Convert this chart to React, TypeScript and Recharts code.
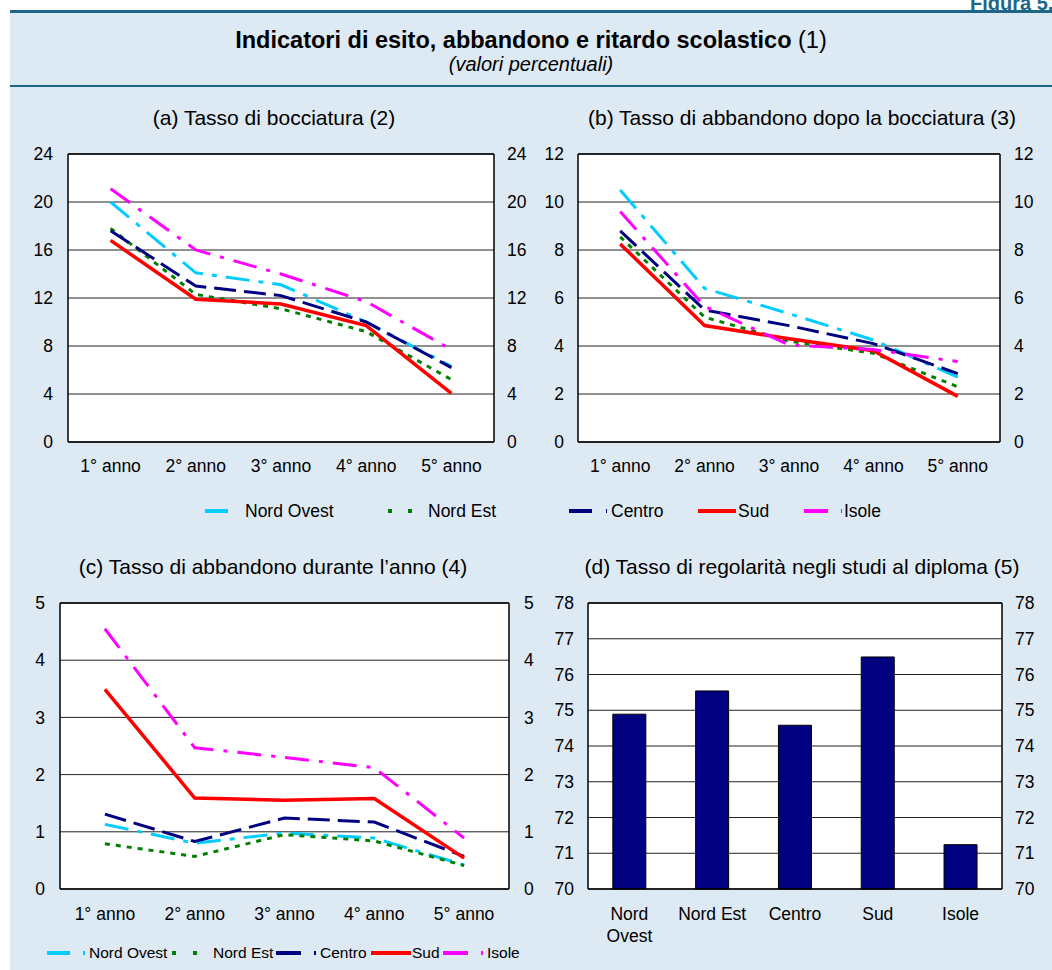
import React from "react";
import {
  LineChart,
  Line,
  ComposedChart,
  Bar,
  XAxis,
  YAxis,
  CartesianGrid,
  ReferenceLine,
} from "recharts";

const years = ["1° anno", "2° anno", "3° anno", "4° anno", "5° anno"];
const regions = ["Nord Ovest", "Nord Est", "Centro", "Sud", "Isole"];

// (a) Tasso di bocciatura
const bocNordOvest = [20.0, 14.1, 13.1, 10.0, 6.3];
const bocNordEst = [17.8, 12.3, 11.1, 9.2, 5.2];
const bocCentro = [17.6, 13.0, 12.2, 10.0, 6.2];
const bocSud = [16.8, 11.9, 11.5, 9.7, 4.05];
const bocIsole = [21.1, 16.0, 14.0, 11.7, 7.7];

// (b) Tasso di abbandono dopo la bocciatura
const dopoNordOvest = [10.5, 6.4, 5.35, 4.25, 2.7];
const dopoNordEst = [8.55, 5.2, 4.2, 3.7, 2.3];
const dopoCentro = [8.8, 5.5, 4.85, 4.1, 2.85];
const dopoSud = [8.25, 4.85, 4.3, 3.8, 1.9];
const dopoIsole = [9.6, 5.65, 4.05, 3.85, 3.35];

// (c) Tasso di abbandono durante l'anno
const durNordOvest = [1.13, 0.8, 0.98, 0.89, 0.42];
const durNordEst = [0.79, 0.57, 0.95, 0.84, 0.41];
const durCentro = [1.31, 0.83, 1.24, 1.17, 0.57];
const durSud = [3.49, 1.59, 1.55, 1.58, 0.54];
const durIsole = [4.55, 2.47, 2.3, 2.12, 0.89];

// (d) Tasso di regolarità negli studi al diploma
const regolarita = [74.89, 75.54, 74.58, 76.49, 71.24];

const ticksA = [0, 4, 8, 12, 16, 20, 24];
const ticksB = [0, 2, 4, 6, 8, 10, 12];
const ticksC = [0, 1, 2, 3, 4, 5];
const ticksD = [70, 71, 72, 73, 74, 75, 76, 77, 78];

const FONT = '"Liberation Sans", Arial, Helvetica, sans-serif';
const BG = "#dde9f3";
const RULE = "#1d6688";

const seriesStyle: Record<string, { color: string; dash?: string; width: number }> = {
  "Nord Ovest": { color: "#00ccff", dash: "24 9 5 9", width: 3 },
  "Nord Est": { color: "#008000", dash: "5 6", width: 3 },
  Centro: { color: "#000080", dash: "22 8", width: 3 },
  Sud: { color: "#ff0000", width: 3.5 },
  Isole: { color: "#ff00ff", dash: "24 10 4 10", width: 3 },
};

function buildRows(cols: number[][]) {
  return years.map((y, i) => {
    const row: Record<string, string | number> = { year: y };
    regions.forEach((r, k) => (row[r] = cols[k][i]));
    return row;
  });
}

const rowsA = buildRows([bocNordOvest, bocNordEst, bocCentro, bocSud, bocIsole]);
const rowsB = buildRows([dopoNordOvest, dopoNordEst, dopoCentro, dopoSud, dopoIsole]);
const rowsC = buildRows([durNordOvest, durNordEst, durCentro, durSud, durIsole]);
const rowsD = regions.map((r, i) => ({ region: r, value: regolarita[i] }));

const tickStyle = { fill: "#000", fontSize: 17.5 };
const GRID = "#222";

interface LinePanelProps {
  rows: Record<string, string | number>[];
  ticks: number[];
  left: number;
  top: number;
  width: number;
  height: number;
  margin: { top: number; right: number; bottom: number; left: number };
  leftW: number;
  rightW: number;
  gapL: number;
  gapR: number;
  xMargin: number;
  pad: number;
}

function LinePanel(p: LinePanelProps) {
  const max = p.ticks[p.ticks.length - 1];
  return (
    <div style={{ position: "absolute", left: p.left, top: p.top }}>
      <LineChart width={p.width} height={p.height} data={p.rows} margin={p.margin}>
        <CartesianGrid vertical={false} stroke={GRID} strokeWidth={1} fill="#fff" />
        <XAxis
          dataKey="year"
          tick={tickStyle}
          tickLine={false}
          tickSize={0}
          tickMargin={p.xMargin}
          axisLine={{ stroke: "#000", strokeWidth: 1.5 }}
          height={30}
          interval={0}
          padding={{ left: p.pad, right: p.pad }}
        />
        <YAxis
          domain={[0, max]}
          ticks={p.ticks}
          tick={tickStyle}
          tickLine={false}
          tickSize={0}
          tickMargin={p.gapL}
          width={p.leftW}
          axisLine={{ stroke: "#000", strokeWidth: 1.5 }}
          interval={0}
        />
        <YAxis
          yAxisId="right"
          orientation="right"
          domain={[0, max]}
          ticks={p.ticks}
          tick={tickStyle}
          tickLine={false}
          tickSize={0}
          tickMargin={p.gapR}
          width={p.rightW}
          axisLine={{ stroke: "#000", strokeWidth: 1.5 }}
          interval={0}
        />
        <ReferenceLine y={max} stroke="#000" strokeWidth={1.5} />
        {/* invisible twin so the secondary axis gets drawn */}
        <Line
          yAxisId="right"
          dataKey={regions[0]}
          stroke="none"
          dot={false}
          activeDot={false}
          legendType="none"
          isAnimationActive={false}
        />
        {regions.map((r) => (
          <Line
            key={r}
            type="linear"
            dataKey={r}
            stroke={seriesStyle[r].color}
            strokeWidth={seriesStyle[r].width}
            strokeDasharray={seriesStyle[r].dash}
            dot={false}
            activeDot={false}
            isAnimationActive={false}
          />
        ))}
      </LineChart>
    </div>
  );
}

function BarTick({ x, y, payload }: { x?: number; y?: number; payload?: { value: string } }) {
  const label = String(payload?.value ?? "");
  const lines = label.length > 8 ? label.split(" ") : [label];
  return (
    <text x={x} y={y} textAnchor="middle" fontSize={17.5} fill="#000">
      {lines.map((w, i) => (
        <tspan key={i} x={x} dy={i === 0 ? "0.71em" : 22}>
          {w}
        </tspan>
      ))}
    </text>
  );
}

interface LegendProps {
  top: number;
  swatchX: number[];
  textX: number[];
  dashes: string[];
  lens: number[];
  fontSize: number;
}

function LegendRow({ top, swatchX, textX, dashes, lens, fontSize }: LegendProps) {
  return (
    <div style={{ position: "absolute", left: 0, top: top - 12, width: 1052, height: 24 }}>
      <svg width={1052} height={24} style={{ position: "absolute", left: 0, top: 0 }}>
        {regions.map((r, i) => (
          <line
            key={r}
            x1={swatchX[i]}
            x2={swatchX[i] + lens[i]}
            y1={12}
            y2={12}
            stroke={seriesStyle[r].color}
            strokeWidth={4}
            strokeDasharray={dashes[i] || undefined}
          />
        ))}
      </svg>
      {regions.map((r, i) => (
        <div
          key={r}
          style={{
            position: "absolute",
            left: textX[i],
            top: 0,
            height: 24,
            lineHeight: "24px",
            fontSize,
            whiteSpace: "nowrap",
          }}
        >
          {r}
        </div>
      ))}
    </div>
  );
}

function Title({ text, cx, cy, size }: { text: string; cx: number; cy: number; size: number }) {
  return (
    <div
      style={{
        position: "absolute",
        left: cx - 300,
        width: 600,
        top: cy - 15,
        height: 30,
        lineHeight: "30px",
        textAlign: "center",
        fontSize: size,
        whiteSpace: "nowrap",
      }}
    >
      {text}
    </div>
  );
}

export default function App() {
  return (
    <div
      style={{
        position: "absolute",
        left: 0,
        top: 0,
        width: 1052,
        height: 970,
        overflow: "hidden",
        background: "#fff",
        fontFamily: FONT,
        color: "#000",
      }}
    >
      <div
        style={{
          position: "absolute",
          left: 970,
          top: -7,
          fontSize: 20,
          fontWeight: "bold",
          color: RULE,
          whiteSpace: "nowrap",
          lineHeight: "20px",
        }}
      >
        Figura 5.1
      </div>
      <div style={{ position: "absolute", left: 10, top: 13, width: 1042, height: 957, background: BG }} />
      <div style={{ position: "absolute", left: 10, top: 10, width: 1042, height: 3, background: RULE }} />
      <div style={{ position: "absolute", left: 10, top: 85, width: 1042, height: 2, background: RULE }} />

      <div
        style={{
          position: "absolute",
          left: 10,
          width: 1042,
          top: 25,
          height: 30,
          lineHeight: "30px",
          textAlign: "center",
          fontSize: 23.5,
        }}
      >
        <b>Indicatori di esito, abbandono e ritardo scolastico</b> (1)
      </div>
      <div
        style={{
          position: "absolute",
          left: 10,
          width: 1042,
          top: 51,
          height: 26,
          lineHeight: "26px",
          textAlign: "center",
          fontSize: 20,
          fontStyle: "italic",
        }}
      >
        (valori percentuali)
      </div>

      <Title text="(a) Tasso di bocciatura (2)" cx={274} cy={118} size={21} />
      <Title text="(b) Tasso di abbandono dopo la bocciatura (3)" cx={802} cy={118} size={21} />
      <Title text="(c) Tasso di abbandono durante l’anno (4)" cx={273} cy={567} size={21} />
      <Title text="(d) Tasso di regolarità negli studi al diploma (5)" cx={802} cy={567} size={21} />

      <LinePanel
        rows={rowsA}
        ticks={ticksA}
        left={0}
        top={140}
        width={540}
        height={340}
        margin={{ top: 14, right: 6, bottom: 8, left: 18 }}
        leftW={50}
        rightW={40}
        gapL={15}
        gapR={13}
        xMargin={18}
        pad={42.6}
      />
      <LinePanel
        rows={rowsB}
        ticks={ticksB}
        left={526}
        top={140}
        width={526}
        height={340}
        margin={{ top: 14, right: 12, bottom: 8, left: 12 }}
        leftW={40}
        rightW={40}
        gapL={14}
        gapR={14}
        xMargin={18}
        pad={42.2}
      />
      <LinePanel
        rows={rowsC}
        ticks={ticksC}
        left={0}
        top={580}
        width={560}
        height={360}
        margin={{ top: 23, right: 11, bottom: 21, left: 15 }}
        leftW={45}
        rightW={40}
        gapL={15}
        gapR={15}
        xMargin={19}
        pad={44.9}
      />

      <div style={{ position: "absolute", left: 526, top: 580 }}>
        <ComposedChart
          width={526}
          height={380}
          data={rowsD}
          margin={{ top: 23, right: 10, bottom: 21, left: 17 }}
          barCategoryGap="30%"
        >
          <CartesianGrid vertical={false} stroke={GRID} strokeWidth={1} fill="#fff" />
          <XAxis
            dataKey="region"
            tick={<BarTick />}
            tickLine={false}
            tickSize={0}
            tickMargin={19}
            axisLine={{ stroke: "#000", strokeWidth: 1.5 }}
            height={50}
            interval={0}
          />
          <YAxis
            domain={[70, 78]}
            ticks={ticksD}
            tick={tickStyle}
            tickLine={false}
            tickSize={0}
            tickMargin={14}
            width={45}
            axisLine={{ stroke: "#000", strokeWidth: 1.5 }}
            interval={0}
          />
          <YAxis
            yAxisId="right"
            orientation="right"
            domain={[70, 78]}
            ticks={ticksD}
            tick={tickStyle}
            tickLine={false}
            tickSize={0}
            tickMargin={13}
            width={40}
            axisLine={{ stroke: "#000", strokeWidth: 1.5 }}
            interval={0}
          />
          <ReferenceLine y={78} stroke="#000" strokeWidth={1.5} />
          <Bar dataKey="value" fill="#000080" stroke="#000" strokeWidth={1} isAnimationActive={false} />
          <Line
            yAxisId="right"
            dataKey="value"
            stroke="none"
            dot={false}
            activeDot={false}
            legendType="none"
            isAnimationActive={false}
          />
        </ComposedChart>
      </div>

      <LegendRow
        top={511}
        swatchX={[205, 388, 569, 698, 804]}
        textX={[245, 428, 611, 738, 844]}
        dashes={["23 100", "4 16 4 100", "23 14 2 100", "", "24 13 2 100"]}
        lens={[38, 38, 38, 38, 38]}
        fontSize={17.5}
      />
      <LegendRow
        top={953}
        swatchX={[47, 172, 276, 371, 443]}
        textX={[89, 213, 320, 412, 487]}
        dashes={["23 13 2 100", "4 17 4 100", "25 13 2 100", "", "25 13 2 100"]}
        lens={[39, 25, 40, 40, 40]}
        fontSize={15.5}
      />
    </div>
  );
}
